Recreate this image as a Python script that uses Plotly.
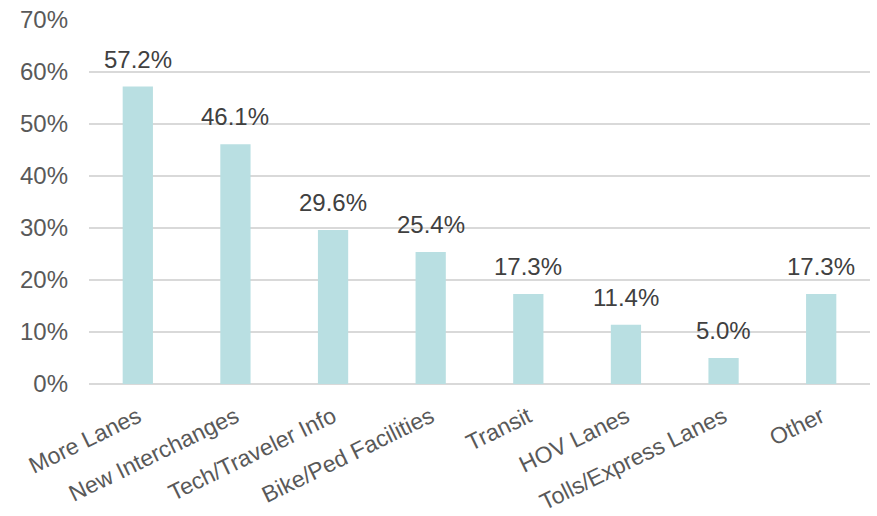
import plotly.graph_objects as go

categories = ["More Lanes", "New Interchanges", "Tech/Traveler Info", "Bike/Ped Facilities",
              "Transit", "HOV Lanes", "Tolls/Express Lanes", "Other"]
values = [57.2, 46.1, 29.6, 25.4, 17.3, 11.4, 5.0, 17.3]
labels = [f"{v:.1f}%" for v in values]
y_ticks = [0, 10, 20, 30, 40, 50, 60, 70]
y_tick_labels = [f"{t}%" for t in y_ticks]

fig = go.Figure(go.Bar(
    x=categories, y=values, cliponaxis=False,
    marker=dict(color="#b9dfe2", line=dict(width=0)),
))
for c, v, t in zip(categories, values, labels):
    fig.add_annotation(x=c, y=v, text=t, showarrow=False, yanchor="bottom",
                       yshift=12, font=dict(family="Liberation Sans, Arial", size=24, color="#404040"))
fig.update_layout(
    width=877, height=516,
    margin=dict(l=89, r=7, t=20, b=132, autoexpand=False),
    plot_bgcolor="white", paper_bgcolor="white",
    bargap=0.69, showlegend=False,
    font=dict(family="Liberation Sans, Arial", size=24, color="#595959"),
)
fig.update_yaxes(range=[0, 70], tickvals=y_ticks, ticktext=y_tick_labels,
                 showgrid=True, gridcolor="#d9d9d9", gridwidth=1.5,
                 zeroline=True, zerolinecolor="#d9d9d9", zerolinewidth=1.5,
                 showline=False, ticks="", ticklen=0, automargin=False,
                 ticklabelstandoff=20,
                 tickfont=dict(size=24, color="#595959"))
fig.update_xaxes(tickangle=-26, showline=False, ticks="", automargin=False,
                 ticklabelstandoff=14,
                 tickfont=dict(size=23, color="#595959"))
fig.write_html("out.html", config={"displayModeBar": False},
               post_script="document.body.style.margin='0';document.body.style.overflow='hidden';")
